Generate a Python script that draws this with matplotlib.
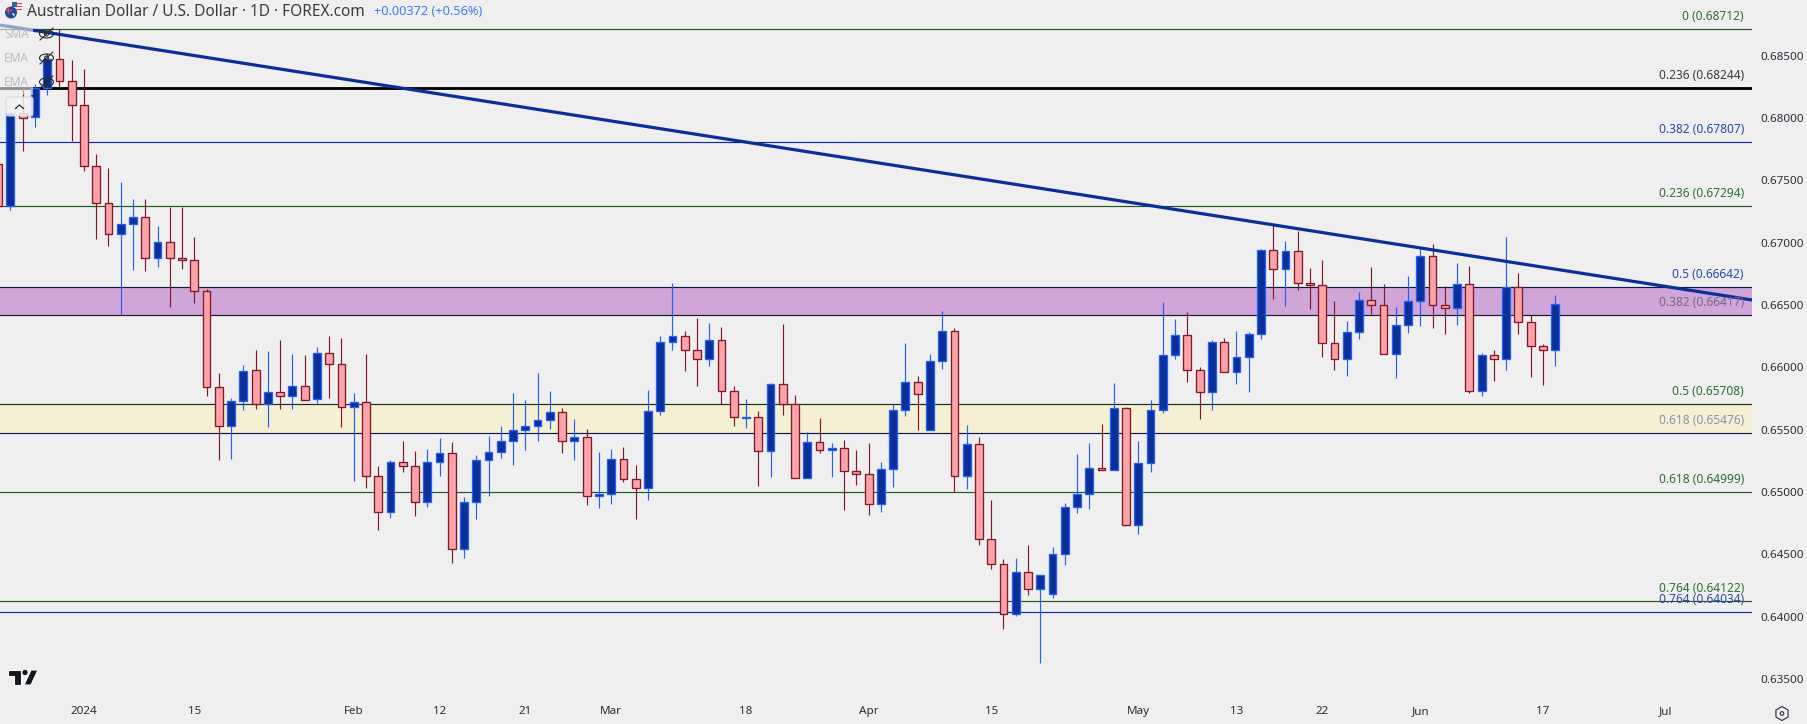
import numpy as np
import matplotlib
matplotlib.use("Agg")
import matplotlib.pyplot as plt
from matplotlib.patches import Circle, Ellipse, FancyBboxPatch, Polygon, Rectangle, RegularPolygon

# -------------------------------
# DATA (prices in 1e-5 units)
# -------------------------------
opens = [67631, 67294, 68040, 68008, 68241, 68474, 68297, 68104, 67615, 67318,
         67069, 67150, 67206, 66877, 67005, 66877, 66861, 66612, 65842, 65529,
         65729, 65978, 65705, 65802, 65770, 65850, 65745, 66115, 66026, 65681,
         65721, 65127, 64839, 65240, 65208, 64919, 65240, 65312, 64542, 64919,
         65256, 65320, 65408, 65497, 65529, 65577, 65641, 65408, 65441, 64967,
         64983, 65264, 65104, 65031, 65649, 66203, 66251, 66139, 66066, 66219,
         65810, 65597, 65601, 65328, 65866, 65705, 65112, 65400, 65336, 65352,
         65168, 65144, 64903, 65184, 65657, 65882, 65497, 66050, 66291, 65127,
         65384, 64622, 64421, 64020, 64357, 64221, 64181, 64502, 64879, 64983,
         65192, 65176, 65673, 64734, 65232, 65657, 66099, 66259, 65978, 65802,
         66203, 65962, 66082, 66267, 66941, 66789, 66933, 66676, 66660, 66195,
         66066, 66283, 66540, 66500, 66107, 66339, 66532, 66893, 66500, 66476,
         66668, 65810, 66099, 66066, 66644, 66363, 66171, 66139]
closes = [67294, 68040, 68004, 68241, 68474, 68297, 68104, 67615, 67318, 67069,
          67150, 67206, 66877, 67005, 66877, 66861, 66612, 65842, 65529, 65729,
          65970, 65705, 65802, 65770, 65850, 65737, 66115, 66026, 65681, 65721,
          65127, 64839, 65240, 65208, 64919, 65240, 65312, 64542, 64919, 65256,
          65320, 65408, 65497, 65529, 65577, 65641, 65408, 65441, 64967, 64983,
          65264, 65104, 65031, 65649, 66203, 66251, 66139, 66066, 66219, 65810,
          65601, 65601, 65328, 65866, 65705, 65112, 65400, 65336, 65352, 65168,
          65144, 64903, 65184, 65657, 65882, 65786, 66050, 66291, 65127, 65384,
          64622, 64421, 64020, 64357, 64221, 64333, 64502, 64879, 64983, 65192,
          65176, 65673, 64734, 65232, 65657, 66098, 66259, 65978, 65802, 66203,
          65962, 66082, 66267, 66941, 66789, 66933, 66676, 66660, 66195, 66066,
          66283, 66540, 66500, 66107, 66339, 66532, 66893, 66500, 66476, 66668,
          65810, 66099, 66066, 66644, 66363, 66171, 66139, 66508]
highs = [67663, 68040, 68241, 68273, 68522, 68712, 68466, 68393, 67711, 67599,
         67487, 67350, 67350, 67134, 67286, 67286, 67045, 66628, 65954, 65753,
         66018, 66139, 66131, 66219, 66107, 66099, 66163, 66251, 66235, 65794,
         66107, 65208, 65256, 65408, 65328, 65344, 65433, 65400, 64959, 65296,
         65449, 65529, 65794, 65737, 65954, 65810, 65673, 65585, 65505, 65320,
         65344, 65360, 65216, 65818, 66251, 66676, 66291, 66395, 66355, 66323,
         65850, 65745, 65649, 65874, 66347, 65778, 65481, 65593, 65392, 65416,
         65336, 65392, 65240, 65705, 66195, 65930, 66107, 66452, 66315, 65537,
         65441, 64935, 64462, 64470, 64574, 64333, 64558, 64911, 65304, 65392,
         65545, 65874, 65681, 65408, 65737, 66524, 66387, 66444, 66002, 66219,
         66235, 66291, 66283, 66949, 67142, 67013, 67094, 66797, 66861, 66532,
         66371, 66604, 66805, 66668, 66484, 66732, 66957, 66989, 66652, 66837,
         66813, 66115, 66139, 67045, 66756, 66419, 66187, 66580]
lows = [67294, 67262, 67735, 67928, 68185, 68249, 67816, 67575, 67029, 66973,
        66419, 66781, 66773, 66805, 66484, 66789, 66516, 65770, 65256, 65264,
        65657, 65665, 65521, 65665, 65665, 65737, 65713, 65753, 65521, 65087,
        65031, 64694, 64791, 65160, 64807, 64879, 65127, 64430, 64470, 64783,
        64967, 65272, 65216, 65336, 65408, 65505, 65312, 65256, 64895, 64871,
        64903, 65079, 64783, 64935, 65617, 66139, 65970, 65850, 66010, 65705,
        65529, 65513, 65047, 65120, 65617, 65112, 65112, 65312, 65120, 64855,
        65055, 64815, 64839, 65039, 65609, 65497, 65497, 65986, 64999, 65023,
        64574, 64381, 63900, 64004, 64173, 63627, 64149, 64414, 64831, 64863,
        65176, 65176, 64734, 64662, 65160, 65633, 66066, 65882, 65585, 65657,
        65962, 65866, 65802, 66227, 66548, 66492, 66620, 66468, 66082, 65978,
        65930, 66227, 66427, 66107, 65914, 66275, 66331, 66315, 66267, 66339,
        65794, 65770, 65890, 65978, 66267, 65922, 65858, 66010]

# trendline ends and fib levels
trend_price_left = 0.68746
trend_price_right = 0.66540
fib_ratios = ["0", "0.236", "0.382", "0.236", "0.5", "0.382", "0.5", "0.618", "0.618", "0.764", "0.764"]
fib_prices = [0.68712, 0.68244, 0.67807, 0.67294, 0.66642, 0.66417, 0.65708, 0.65476, 0.64999, 0.64122, 0.64034]
fib_line_colors = ["#1F5C22", "#000000", "#0E2F9A", "#1F5C22", "#0A1A4A", "#1A1A2A",
                   "#1A2E14", "#0A1A4A", "#1F5C22", "#1F5C22", "#0E2F9A"]
fib_text_colors = ["#2E7033", "#3A3A3A", "#2A4BA8", "#2E7033", "#2A4BA8", "#7A6A80",
                   "#2E7033", "#8A92A8", "#2E7033", "#2E7033", "#2A4BA8"]
fib_widths = [1.0, 2.4, 1.0, 1.0, 1.0, 1.0, 1.0, 1.0, 1.0, 1.0, 1.0]

price_ticks = [0.635, 0.64, 0.645, 0.65, 0.655, 0.66, 0.665, 0.67, 0.675, 0.68, 0.685]
date_bars = [7, 16, 29, 36, 43, 50, 61, 71, 81, 93, 101, 108, 116, 126, 136]
date_labels = ["2024", "15", "Feb", "12", "21", "Mar", "18", "Apr", "15", "May", "13", "22", "Jun", "17", "Jul"]

# -------------------------------
# Figure and scales
# -------------------------------
W, H = 1808, 724
BG = "#EFEFEF"
plt.rcParams["font.family"] = ["Noto Sans", "DejaVu Sans"]

PLOT_R, PLOT_B = 1752, 696
BAR_STEP, BAR_X0 = 12.26, -1.86
PRICE_TOP, PX_PER_PRICE = 0.68947, 12463.0

fig = plt.figure(figsize=(W / 100, H / 100), dpi=100, facecolor=BG)
ax = fig.add_axes([0, (H - PLOT_B) / H, PLOT_R / W, PLOT_B / H], facecolor=BG)
ax.set_xlim((0 - BAR_X0) / BAR_STEP, (PLOT_R - BAR_X0) / BAR_STEP)
ax.set_ylim(PRICE_TOP - PLOT_B / PX_PER_PRICE, PRICE_TOP)
for s in ax.spines.values():
    s.set_visible(False)

# overlay in pixel coordinates for the chart furniture
ov = fig.add_axes([0, 0, 1, 1], facecolor="none", zorder=5)
ov.set_xlim(0, W)
ov.set_ylim(H, 0)
ov.axis("off")

# -------------------------------
# Zones and fib lines
# -------------------------------
ax.axhspan(fib_prices[5], fib_prices[4], color="#CFA6D7", lw=0, zorder=1)
ax.axhspan(fib_prices[7], fib_prices[6], color="#F5EFD4", lw=0, zorder=1)
for price, col, w in zip(fib_prices, fib_line_colors, fib_widths):
    ax.axhline(price, color=col, lw=w * 0.85, zorder=2)
for ratio, price, col in zip(fib_ratios, fib_prices, fib_text_colors):
    ax.annotate(f"{ratio} ({price:.5f})", xy=(1, price), xycoords=("axes fraction", "data"),
                xytext=(-5.8, 9), textcoords="offset points", ha="right", va="center",
                fontsize=8.6, color=col, zorder=6)

# -------------------------------
# Candles
# -------------------------------
o = np.array(opens) / 1e5
c = np.array(closes) / 1e5
hi = np.array(highs) / 1e5
lo = np.array(lows) / 1e5
bars = np.arange(len(o))
up = c >= o
tops = np.maximum(o, c)
bots = np.minimum(o, c)

UP_FILL, UP_EDGE = "#0B2F98", "#2460F5"
DN_FILL, DN_EDGE = "#FBA3A6", "#84182A"
bw = 7.8 / BAR_STEP
for mask, fill, edge in [(up, UP_FILL, UP_EDGE), (~up, DN_FILL, DN_EDGE)]:
    ax.vlines(bars[mask], lo[mask], hi[mask], color=edge, lw=0.85, zorder=3)
    ax.bar(bars[mask], tops[mask] - bots[mask], bottom=bots[mask], width=bw,
           facecolor=fill, edgecolor=edge, linewidth=0.95, zorder=4)

# -------------------------------
# Trendline
# -------------------------------
x_l, x_r = ax.get_xlim()
ax.plot([x_l, x_r], [trend_price_left, trend_price_right], color="#0C2E98", lw=2.3, zorder=5,
        solid_capstyle="butt")

# -------------------------------
# Axes ticks
# -------------------------------
ax.yaxis.tick_right()
ax.set_yticks(price_ticks)
ax.set_yticklabels([f"{p:.5f}" for p in price_ticks])
ax.set_xticks(date_bars)
ax.set_xticklabels(date_labels)
ax.tick_params(axis="y", length=0, pad=5.8, labelsize=8.4, labelcolor="#2A2E39")
ax.tick_params(axis="x", length=0, pad=7.5, labelsize=8.4, labelcolor="#2A2E39")
ax.get_xticklabels()[0].set_fontweight("medium")

# -------------------------------
# Header and legend furniture
# -------------------------------
ov.text(27, 11.5, "Australian Dollar / U.S. Dollar · 1D · FOREX.com", fontsize=11.1, color="#3B3B3B",
        va="center", ha="left")
ov.text(374, 11.5, "+0.00372 (+0.56%)", fontsize=9.2, color="#3F7BF5", va="center", ha="left")

# flags
ov.add_patch(Circle((17, 6.5), 5.5, facecolor="#F4E4E4", edgecolor="none"))
for yy in (3.5, 6.5, 9.5):
    ov.add_patch(Rectangle((13, yy - 0.7), 9, 1.4, facecolor="#D84A4A", edgecolor="none"))
ov.add_patch(Rectangle((12, 1.5), 5, 5, facecolor="#3A5FA8", edgecolor="none"))
ov.add_patch(Circle((11, 12.5), 6, facecolor="#1F4E96", edgecolor="none"))
ov.plot([6, 11], [10, 10], color="#D84A4A", lw=1)
ov.plot([8.5, 8.5], [7, 12.5], color="#D84A4A", lw=1)
ov.plot([13, 14], [14, 15], color="white", lw=1)

# legend rows wash out what is under them
ov.add_patch(Rectangle((0, 22), 33, 73, facecolor=BG, edgecolor="none", alpha=0.6))
for name, yy in [("SMA", 34), ("EMA", 58), ("EMA", 82)]:
    ov.text(16.5, yy, name, fontsize=8.6, color="#B9BCC4", va="center", ha="center")
    ov.add_patch(Ellipse((46.5, yy), 14, 8, facecolor="none", edgecolor="#2A2A2A", lw=0.8))
    ov.add_patch(Circle((46.5, yy), 2, facecolor="none", edgecolor="#2A2A2A", lw=0.8))
    ov.plot([40, 53], [yy + 6, yy - 6], color="#2A2A2A", lw=0.8)

# collapse button
ov.add_patch(FancyBboxPatch((6, 97), 27, 19, boxstyle="round,pad=0,rounding_size=2",
                            facecolor="#F2F2F4", edgecolor="#D4D6E0", lw=0.8, alpha=0.85))
ov.plot([15.5, 19.5, 23.5], [108.5, 105, 108.5], color="#2A2A2A", lw=0.9)

# TV logo
LOGO = "#131722"
ov.add_patch(Polygon([(8, 670), (21, 670), (21, 685), (14, 685), (14, 676), (8, 676)],
                     facecolor=LOGO, edgecolor="white", lw=0.8))
ov.add_patch(Circle((25, 672.5), 2.6, facecolor=LOGO, edgecolor="none"))
ov.add_patch(Polygon([(31, 670), (38, 670), (31, 685), (24, 685)], facecolor=LOGO,
                     edgecolor="white", lw=0.8))

# settings hexagon
ov.add_patch(RegularPolygon((1782, 713.5), 6, radius=7, orientation=np.pi / 2 + np.pi / 6,
                            facecolor="none", edgecolor="#2A2E39", lw=0.8))
ov.add_patch(Circle((1782, 713.5), 1.8, facecolor="none", edgecolor="#2A2E39", lw=0.8))

fig.savefig("out.png", dpi=100, facecolor=BG)
